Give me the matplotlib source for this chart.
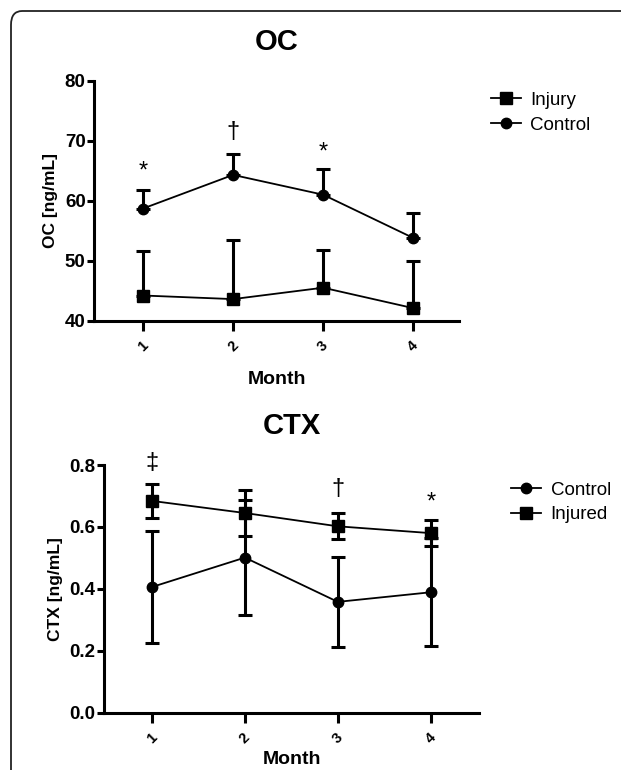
import numpy as np
import matplotlib
matplotlib.use("Agg")
import matplotlib.pyplot as plt
from matplotlib.patches import FancyBboxPatch

plt.rcParams['font.family'] = ['Liberation Sans', 'DejaVu Sans']

# donnees
months = [1, 2, 3, 4]
month_labels = ['1', '2', '3', '4']

oc_injury = [44.2, 43.6, 45.5, 42.1]
oc_injury_sd = [7.4, 9.8, 6.3, 7.8]
oc_control = [58.7, 64.3, 61.0, 53.8]
oc_control_sd = [3.1, 3.5, 4.2, 4.2]
oc_marks = ['*', '\u2020', '*']
oc_mark_x = [1, 2, 3]
oc_mark_y = [64.9, 71.4, 68.0]

ctx_control = [0.406, 0.501, 0.358, 0.389]
ctx_control_sd = [0.180, 0.186, 0.145, 0.174]
ctx_injured = [0.684, 0.645, 0.602, 0.580]
ctx_injured_sd = [0.055, 0.073, 0.042, 0.043]
ctx_marks = ['\u2021', '\u2020', '*']
ctx_mark_x = [1, 3, 4]
ctx_mark_y = [0.805, 0.723, 0.678]

fig = plt.figure(figsize=(6.21, 7.70), dpi=100)

# cadre arrondi (coupe a droite et en bas)
cadre = FancyBboxPatch((11/621, -0.05), 1.2, 1 - 11/770 + 0.05,
                       boxstyle="round,pad=0,rounding_size=0.018",
                       transform=fig.transFigure, fill=False,
                       edgecolor='#222222', linewidth=1.3, clip_on=False)
fig.patches.append(cadre)


def style_axes(ax, pad_month):
    for s in ['top', 'right']:
        ax.spines[s].set_visible(False)
    for s in ['left', 'bottom']:
        ax.spines[s].set_linewidth(2.2)
    ax.tick_params(axis='y', direction='out', length=5, width=2.2,
                   labelsize=13.5, pad=1)
    ax.tick_params(axis='x', direction='out', length=7, width=2.2,
                   labelsize=10.5, pad=6)
    for lab in ax.get_yticklabels():
        lab.set_fontweight('bold')
    ax.set_xticks(months)
    ax.set_xticklabels(month_labels, rotation=45, ha='center', va='top',
                       fontweight='bold')
    ax.set_xlabel('Month', fontsize=14, fontweight='bold', labelpad=pad_month)


eb_kw = dict(elinewidth=2.2, capsize=5, capthick=2.2, color='black',
             linewidth=1.3)
leg_kw = dict(loc='upper left', frameon=False, fontsize=13.5,
              handlelength=1.6, handletextpad=0.5, labelspacing=0.4,
              borderpad=0)

# ---- OC ----
ax1 = fig.add_axes([0.1514, 0.5835, 0.5878, 0.3117])
ax1.errorbar(months, oc_injury, yerr=[np.zeros(4), oc_injury_sd],
             marker='s', markersize=8, label='Injury', **eb_kw)
ax1.errorbar(months, oc_control, yerr=[np.zeros(4), oc_control_sd],
             marker='o', markersize=7.5, label='Control', **eb_kw)
for m, x, y in zip(oc_marks, oc_mark_x, oc_mark_y):
    ax1.text(x, y, m, ha='center', va='center', fontsize=17)
ax1.set_xlim(0.455, 4.51)
ax1.set_ylim(40, 80)
ax1.set_yticks([40, 50, 60, 70, 80])
ax1.set_ylabel('OC [ng/mL]', fontsize=12.5, fontweight='bold', labelpad=5)
ax1.set_title('OC', fontsize=21, fontweight='bold', pad=22)
style_axes(ax1, 12)
h, l = ax1.get_legend_handles_labels()
h = [hh[0] for hh in h]
fig.legend(h, l, bbox_to_anchor=(0.775, 0.893), **leg_kw)

# ---- CTX ----
ax2 = fig.add_axes([0.1675, 0.0744, 0.6039, 0.3217])
ax2.errorbar(months, ctx_control, yerr=ctx_control_sd,
             marker='o', markersize=7.5, label='Control', **eb_kw)
ax2.errorbar(months, ctx_injured, yerr=ctx_injured_sd,
             marker='s', markersize=8, label='Injured', **eb_kw)
for m, x, y in zip(ctx_marks, ctx_mark_x, ctx_mark_y):
    ax2.text(x, y, m, ha='center', va='center', fontsize=17)
ax2.set_xlim(0.484, 4.52)
ax2.set_ylim(0, 0.8)
ax2.set_yticks([0.0, 0.2, 0.4, 0.6, 0.8])
ax2.set_yticklabels(['0.0', '0.2', '0.4', '0.6', '0.8'])
ax2.set_ylabel('CTX [ng/mL]', fontsize=12.5, fontweight='bold', labelpad=5)
ax2.set_title('CTX', fontsize=21, fontweight='bold', pad=22)
style_axes(ax2, 3)
h, l = ax2.get_legend_handles_labels()
h = [hh[0] for hh in h]
fig.legend(h, l, bbox_to_anchor=(0.808, 0.387), **leg_kw)

fig.savefig('out.png', dpi=100)
